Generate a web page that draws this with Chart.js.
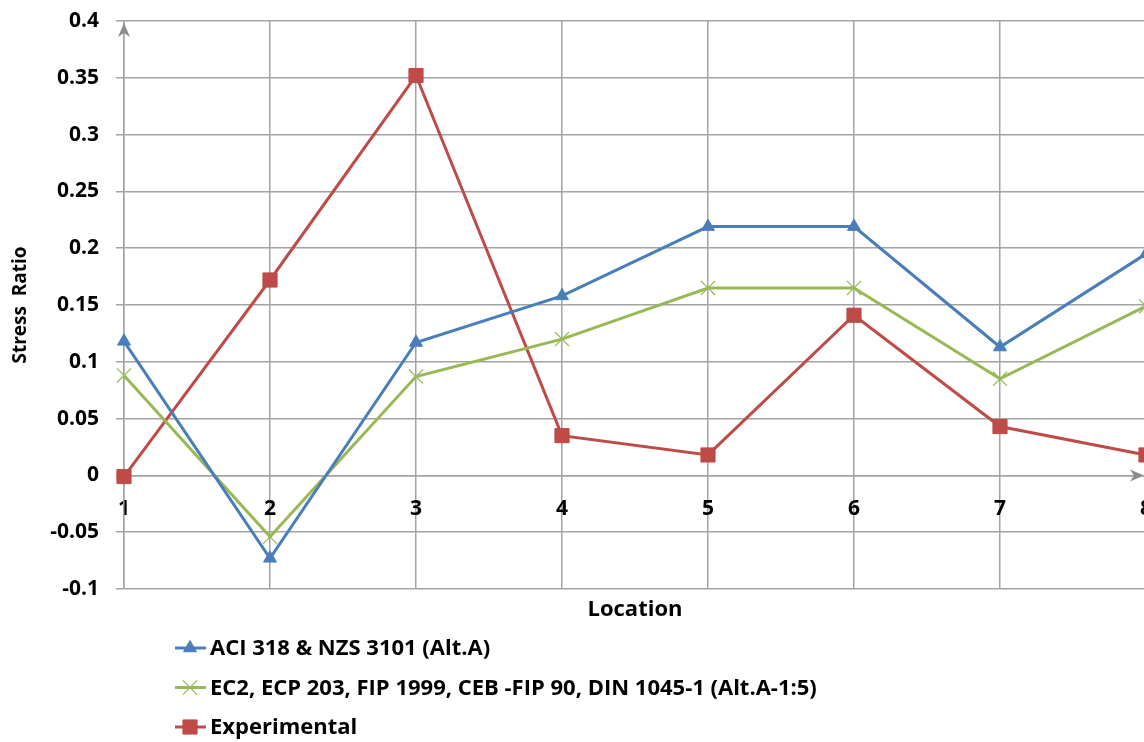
<!DOCTYPE html>
<html>
<head>
<meta charset="utf-8">
<script src="https://cdn.jsdelivr.net/npm/chart.js@4.4.0/dist/chart.umd.min.js"></script>
<style>
  html, body { margin: 0; padding: 0; background: #fff; overflow: hidden; }
  #wrap { width: 1170px; height: 742px; }
</style>
</head>
<body>
<div id="wrap"><canvas id="chart"></canvas></div>
<script>
// values
const locations = ['1', '2', '3', '4', '5', '6', '7', '8'];
const aciValues = [0.118, -0.073, 0.117, 0.158, 0.219, 0.219, 0.113, 0.195];
const ec2Values = [0.088, -0.054, 0.087, 0.120, 0.165, 0.165, 0.085, 0.149];
const experimentalValues = [-0.001, 0.172, 0.352, 0.035, 0.018, 0.141, 0.043, 0.018];
const seriesNames = [
  'ACI 318 & NZS 3101 (Alt.A)',
  'EC2, ECP 203, FIP 1999, CEB -FIP 90, DIN 1045-1 (Alt.A-1:5)',
  'Experimental'
];

const gridGray = '#a3a3a3';
const fontFamily = '"Open Sans", Lato, sans-serif';

// the layout padding alone decides where the plot sits
const noEdgePadding = (scale) => {
  scale.paddingTop = 0;
  scale.paddingBottom = 0;
  scale.paddingLeft = 0;
  scale.paddingRight = 0;
};

// arrows on the axes and the vertical legend under the plot
const extrasPlugin = {
  id: 'extras',
  afterDraw(chart) {
    const { ctx, chartArea, scales } = chart;
    ctx.save();
    ctx.fillStyle = '#8c8c8c';
    // y axis arrow
    const ax = chartArea.left;
    const at = chartArea.top + 2;
    ctx.beginPath();
    ctx.moveTo(ax, at);
    ctx.lineTo(ax - 6, at + 14);
    ctx.lineTo(ax, at + 10);
    ctx.lineTo(ax + 6, at + 14);
    ctx.closePath();
    ctx.fill();
    // x axis arrow at zero line
    const zy = scales.y.getPixelForValue(0);
    const xr = chartArea.right - 2;
    ctx.beginPath();
    ctx.moveTo(xr, zy);
    ctx.lineTo(xr - 14, zy - 6);
    ctx.lineTo(xr - 10, zy);
    ctx.lineTo(xr - 14, zy + 6);
    ctx.closePath();
    ctx.fill();

    // legend
    const lx = 175;
    let ly = chartArea.bottom + 59;
    ctx.font = 'bold 22px ' + fontFamily;
    ctx.textBaseline = 'middle';
    chart.data.datasets.forEach((ds) => {
      ctx.strokeStyle = ds.borderColor;
      ctx.fillStyle = ds.pointBackgroundColor;
      ctx.lineWidth = 3;
      ctx.beginPath();
      ctx.moveTo(lx, ly);
      ctx.lineTo(lx + 31, ly);
      ctx.stroke();
      ctx.lineWidth = ds.pointBorderWidth;
      Chart.helpers.drawPoint(ctx, {
        pointStyle: ds.pointStyle,
        radius: ds.pointRadius,
        rotation: 0,
        borderWidth: ds.pointBorderWidth
      }, lx + 15, ly);
      ctx.fillStyle = '#000';
      ctx.fillText(ds.label, lx + 35, ly + 1);
      ly += 39.5;
    });
    ctx.restore();
  }
};

new Chart(document.getElementById('chart'), {
  type: 'line',
  data: {
    labels: locations,
    datasets: [
      {
        label: seriesNames[0],
        data: aciValues,
        borderColor: '#4a7ebb',
        backgroundColor: '#4a7ebb',
        pointBackgroundColor: '#4a7ebb',
        pointBorderColor: '#4a7ebb',
        pointStyle: 'triangle',
        pointRadius: 7.5,
        pointBorderWidth: 1,
        borderWidth: 3
      },
      {
        label: seriesNames[1],
        data: ec2Values,
        borderColor: '#98b954',
        backgroundColor: '#98b954',
        pointBackgroundColor: '#98b954',
        pointBorderColor: '#98b954',
        pointStyle: 'crossRot',
        pointRadius: 10,
        pointBorderWidth: 1.2,
        borderWidth: 3
      },
      {
        label: seriesNames[2],
        data: experimentalValues,
        borderColor: '#be4b48',
        backgroundColor: '#be4b48',
        pointBackgroundColor: '#be4b48',
        pointBorderColor: '#be4b48',
        pointStyle: 'rect',
        pointRadius: 10,
        pointBorderWidth: 1,
        borderWidth: 3
      }
    ]
  },
  options: {
    responsive: true,
    maintainAspectRatio: false,
    animation: false,
    layout: { padding: { top: 21, right: 24, bottom: 119, left: 0 } },
    elements: { line: { tension: 0 } },
    plugins: {
      legend: { display: false },
      tooltip: { enabled: false }
    },
    scales: {
      x: {
        type: 'category',
        position: { y: 0 },
        afterFit: noEdgePadding,
        grid: { color: gridGray, lineWidth: 1.5, tickLength: 0 },
        border: { color: gridGray, width: 1.5 },
        ticks: {
          color: '#000',
          padding: 21,
          maxRotation: 0,
          font: { family: fontFamily, size: 21, weight: 'bold' }
        }
      },
      x2: {
        type: 'category',
        position: 'bottom',
        grid: { display: false },
        border: { display: false },
        ticks: { display: false },
        afterFit: (scale) => { noEdgePadding(scale); scale.height = 34; },
        title: {
          display: true,
          text: 'Location',
          color: '#000',
          padding: { top: 2, bottom: 0 },
          font: { family: fontFamily, size: 22, weight: 'bold' }
        }
      },
      y: {
        min: -0.1,
        max: 0.4,
        afterFit: (scale) => { noEdgePadding(scale); scale.width = 124; },
        grid: { color: gridGray, lineWidth: 1.5, tickLength: 8 },
        border: { color: gridGray, width: 1.5 },
        ticks: {
          stepSize: 0.05,
          color: '#000',
          padding: 17,
          font: { family: fontFamily, size: 21, weight: 'bold' },
          callback: (v) => String(Number(v.toFixed(2)))
        },
        title: {
          display: true,
          text: 'Stress  Ratio',
          color: '#000',
          padding: { top: 9, bottom: 0 },
          font: { family: fontFamily, size: 19, weight: 'bold' }
        }
      }
    }
  },
  plugins: [extrasPlugin]
});
</script>
</body>
</html>
